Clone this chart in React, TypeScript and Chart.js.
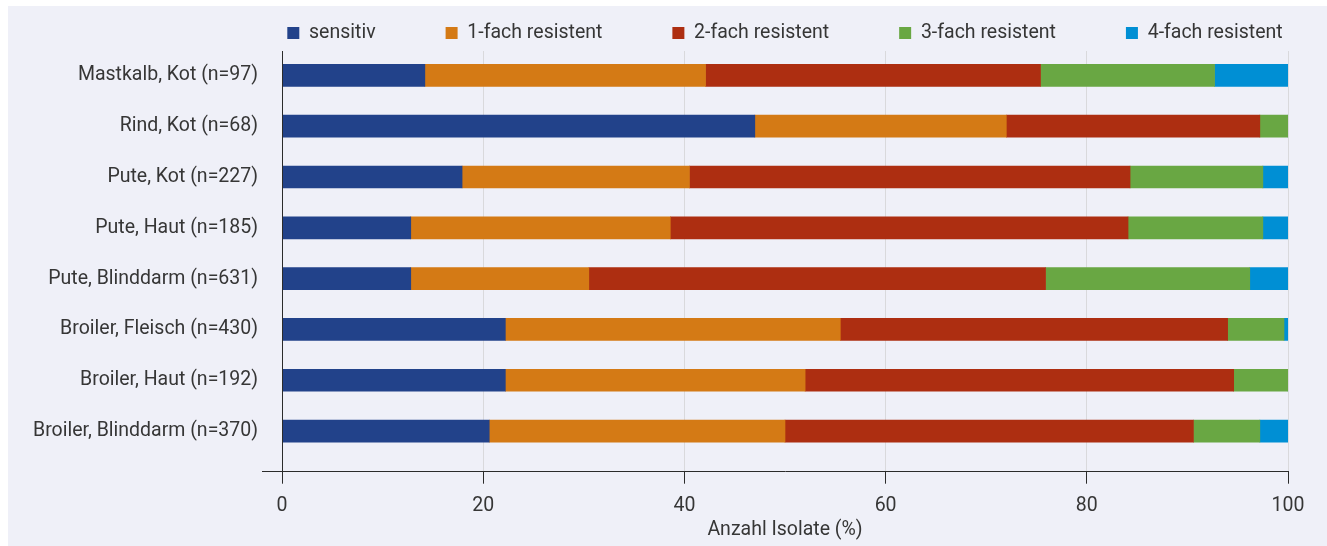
import React, { useEffect, useRef } from 'react';
import { Chart, registerables } from 'chart.js';

Chart.register(...registerables);

const categories = [
  'Mastkalb, Kot (n=97)',
  'Rind, Kot (n=68)',
  'Pute, Kot (n=227)',
  'Pute, Haut (n=185)',
  'Pute, Blinddarm (n=631)',
  'Broiler, Fleisch (n=430)',
  'Broiler, Haut (n=192)',
  'Broiler, Blinddarm (n=370)',
];

const seriesNames = ['sensitiv', '1-fach resistent', '2-fach resistent', '3-fach resistent', '4-fach resistent'];

const sensitiv = [14.2, 47.0, 17.9, 12.8, 12.8, 22.2, 22.2, 20.6];
const fach1 = [27.9, 25.0, 22.6, 25.8, 17.7, 33.3, 29.8, 29.4];
const fach2 = [33.3, 25.2, 43.8, 45.5, 45.4, 38.5, 42.6, 40.6];
const fach3 = [17.3, 2.8, 13.2, 13.4, 20.3, 5.6, 5.4, 6.6];
const fach4 = [7.3, 0, 2.5, 2.5, 3.8, 0.4, 0, 2.8];

const seriesValues = [sensitiv, fach1, fach2, fach3, fach4];
const seriesColors = ['#22428a', '#d47a15', '#ad2e11', '#69a743', '#008fd4'];

const xTickValues = [0, 20, 40, 60, 80, 100];
const xTitle = 'Anzahl Isolate (%)';

const FONT = "Roboto, 'Open Sans', sans-serif";
const FONT_SIZE = 19.5;
const TEXT = '#363636';
const AXIS = '#2b2b2b';
const GRID = '#d9d9dc';
const BG = '#eff0f8';

const Y_MIN = -0.48;
const Y_MAX = 7.8;
const LEGEND_PAD = 70;
const LEGEND_CENTER_Y = 27;

const legendPlacement = {
  id: 'legendPlacement',
  afterLayout(chart: any) {
    const lg = chart.legend;
    const ca = chart.chartArea;
    if (!lg || !ca) return;
    lg.left = ca.left - 300;
    lg.right = ca.right + 300;
    lg.top = LEGEND_CENTER_Y - FONT_SIZE / 2 - LEGEND_PAD;
  },
};

export default function App() {
  const ref = useRef<HTMLCanvasElement | null>(null);

  useEffect(() => {
    if (!ref.current) return;
    const chart = new Chart(ref.current, {
      type: 'bar',
      data: {
        datasets: seriesNames.map((name, s) => ({
          label: name,
          data: seriesValues[s].map((v, i) => ({ x: v, y: i })),
          backgroundColor: seriesColors[s],
          borderWidth: 0,
          barThickness: 22,
        })),
      },
      plugins: [legendPlacement],
      options: {
        indexAxis: 'y',
        animation: false,
        responsive: false,
        layout: { padding: { top: 0, left: 8, right: 39, bottom: 4 } },
        plugins: {
          legend: {
            position: 'top',
            maxHeight: 45,
            labels: {
              boxWidth: 12,
              boxHeight: 12,
              padding: LEGEND_PAD,
              color: TEXT,
              font: { family: FONT, size: FONT_SIZE },
            },
          },
          tooltip: { enabled: false },
        },
        scales: {
          x: {
            type: 'linear',
            stacked: true,
            min: 0,
            max: 100,
            offset: false,
            afterFit: (scale: any) => {
              scale.height = 70.3;
            },
            afterBuildTicks: (scale: any) => {
              scale.ticks = xTickValues.map((v) => ({ value: v }));
            },
            ticks: { color: TEXT, font: { family: FONT, size: FONT_SIZE }, padding: 11 },
            grid: { offset: false, color: GRID, tickColor: AXIS, tickLength: 12, lineWidth: 1 },
            border: { display: true, color: AXIS, width: 1, z: 1 },
            title: {
              display: true,
              text: xTitle,
              color: TEXT,
              font: { family: FONT, size: FONT_SIZE },
              padding: { top: 0, bottom: 0 },
            },
          },
          y: {
            type: 'linear',
            stacked: true,
            reverse: true,
            offset: false,
            bounds: 'data',
            min: Y_MIN,
            max: Y_MAX,
            afterFit: (scale: any) => {
              scale.width = 266;
            },
            afterBuildTicks: (scale: any) => {
              scale.ticks = categories.map((_, i) => ({ value: i })).concat([{ value: Y_MAX }]);
            },
            ticks: {
              autoSkip: false,
              color: TEXT,
              padding: 4,
              font: { family: FONT, size: FONT_SIZE },
              callback: (value: any) => (Number.isInteger(value) ? categories[value] : ''),
            },
            grid: {
              display: true,
              offset: false,
              drawOnChartArea: false,
              drawTicks: true,
              tickLength: 20,
              color: (ctx: any) => (ctx.tick && ctx.tick.value === Y_MAX ? AXIS : 'rgba(0,0,0,0)'),
              tickColor: (ctx: any) => (ctx.tick && ctx.tick.value === Y_MAX ? AXIS : 'rgba(0,0,0,0)'),
            },
            border: { display: true, color: AXIS, width: 1, z: 1 },
          },
        },
      },
    } as any);
    return () => chart.destroy();
  }, []);

  return (
    <div
      style={{
        position: 'absolute',
        left: 8,
        top: 6,
        width: 1319,
        height: 540,
        background: BG,
      }}
    >
      <canvas ref={ref} width={1319} height={540} style={{ display: 'block' }} />
    </div>
  );
}
